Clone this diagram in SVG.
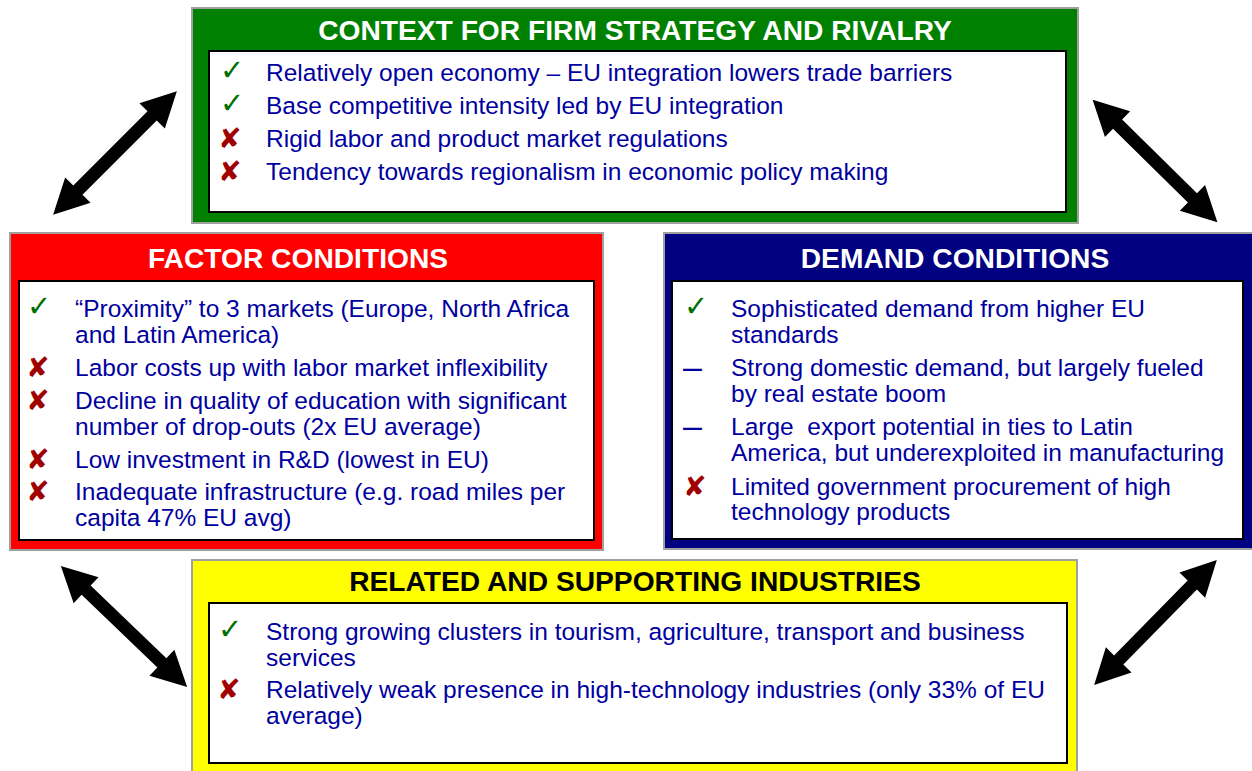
<svg xmlns="http://www.w3.org/2000/svg" xmlns:xlink="http://www.w3.org/1999/xlink" width="1252" height="771" viewBox="0 0 1252 771">
<defs>
<style>
.outer{stroke:#A0A0A0;stroke-width:2}
.inner{fill:#FFFFFF;stroke:#000000;stroke-width:2}
.title{font-family:"Liberation Sans",Arial,sans-serif;font-weight:bold;font-size:28.2px;text-anchor:middle}
.body{font-family:"Liberation Sans",Arial,sans-serif;font-size:24.5px;fill:#0000A0}
.ok{font-family:"DejaVu Sans",sans-serif;font-size:29px;fill:#007000}
.no{font-family:"DejaVu Sans",sans-serif;font-size:28px;fill:#A00000;font-weight:bold}
.dash{font-family:"Liberation Sans",Arial,sans-serif;font-size:34px;fill:#0000A0}
</style>
<polygon id="arr" points="-87.5,0 -52.5,-18 -52.5,-6.5 52.5,-6.5 52.5,-18 87.5,0 52.5,18 52.5,6.5 -52.5,6.5 -52.5,18" fill="#000000"/>
</defs>
<rect width="1252" height="771" fill="#FFFFFF"/>

<g id="connectors">
<use xlink:href="#arr" href="#arr" transform="translate(115,153) rotate(-45)"/>
<use xlink:href="#arr" href="#arr" transform="translate(1155,161) rotate(44.5)"/>
<use xlink:href="#arr" href="#arr" transform="translate(124,626.5) rotate(43.8)"/>
<use xlink:href="#arr" href="#arr" transform="translate(1155.5,622.5) rotate(-45.5)"/>
</g>

<g id="context">
<rect class="outer" x="192" y="8" width="886" height="215" fill="#008000"/>
<rect class="inner" x="209" y="51" width="857" height="161"/>
<text class="title" x="635" y="40" fill="#FFFFFF">CONTEXT FOR FIRM STRATEGY AND RIVALRY</text>
<text class="ok" x="220" y="80">✓</text>
<text class="body" x="266" y="81">Relatively open economy – EU integration lowers trade barriers</text>
<text class="ok" x="220" y="113">✓</text>
<text class="body" x="266" y="114">Base competitive intensity led by EU integration</text>
<text class="no" x="218" y="148">✘</text>
<text class="body" x="266" y="147">Rigid labor and product market regulations</text>
<text class="no" x="218" y="181">✘</text>
<text class="body" x="266" y="180">Tendency towards regionalism in economic policy making</text>
</g>

<g id="factor">
<rect class="outer" x="10" y="233" width="593" height="317" fill="#FF0000"/>
<rect class="inner" x="19" y="281" width="575" height="259"/>
<text class="title" x="298" y="268" fill="#FFFFFF">FACTOR CONDITIONS</text>
<text class="ok" x="27" y="316">✓</text>
<text class="body" x="75" y="317">“Proximity” to 3 markets (Europe, North Africa</text>
<text class="body" x="75" y="343">and Latin America)</text>
<text class="no" x="26" y="377">✘</text>
<text class="body" x="75" y="376">Labor costs up with labor market inflexibility</text>
<text class="no" x="26" y="410">✘</text>
<text class="body" x="75" y="409">Decline in quality of education with significant</text>
<text class="body" x="75" y="435">number of drop-outs (2x EU average)</text>
<text class="no" x="26" y="469">✘</text>
<text class="body" x="75" y="468">Low investment in R&amp;D (lowest in EU)</text>
<text class="no" x="26" y="501">✘</text>
<text class="body" x="75" y="500">Inadequate infrastructure (e.g. road miles per</text>
<text class="body" x="75" y="526">capita 47% EU avg)</text>
</g>

<g id="demand">
<rect class="outer" x="664" y="233" width="590" height="316" fill="#000080"/>
<rect class="inner" x="672" y="281" width="571" height="258"/>
<text class="title" x="955" y="268" fill="#FFFFFF">DEMAND CONDITIONS</text>
<text class="ok" x="684" y="316">✓</text>
<text class="body" x="731" y="317">Sophisticated demand from higher EU</text>
<text class="body" x="731" y="343">standards</text>
<text class="dash" x="683" y="378">–</text>
<text class="body" x="731" y="376">Strong domestic demand, but largely fueled</text>
<text class="body" x="731" y="402">by real estate boom</text>
<text class="dash" x="683" y="437">–</text>
<text class="body" x="731" y="435">Large&#160; export potential in ties to Latin</text>
<text class="body" x="731" y="461">America, but underexploited in manufacturing</text>
<text class="no" x="683" y="496">✘</text>
<text class="body" x="731" y="495">Limited government procurement of high</text>
<text class="body" x="731" y="520">technology products</text>
</g>

<g id="related">
<rect class="outer" x="192" y="560" width="885" height="215" fill="#FFFF00"/>
<rect class="inner" x="209" y="603" width="858" height="160"/>
<text class="title" x="635" y="591" fill="#000000">RELATED AND SUPPORTING INDUSTRIES</text>
<text class="ok" x="218" y="639">✓</text>
<text class="body" x="266" y="640">Strong growing clusters in tourism, agriculture, transport and business</text>
<text class="body" x="266" y="666">services</text>
<text class="no" x="217" y="699">✘</text>
<text class="body" x="266" y="698">Relatively weak presence in high-technology industries (only 33% of EU</text>
<text class="body" x="266" y="724">average)</text>
</g>
</svg>
